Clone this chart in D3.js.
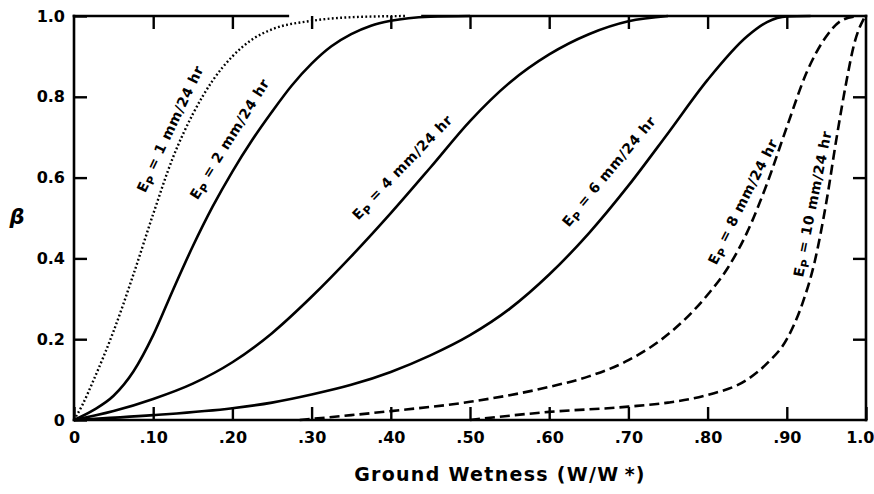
<!DOCTYPE html>
<html>
<head>
<meta charset="utf-8">
<script src="https://cdn.jsdelivr.net/npm/d3@7"></script>
<style>
  body { margin: 0; background: #fff; }
  text { font-family: "DejaVu Sans", sans-serif; font-weight: bold; fill: #000; }
</style>
</head>
<body>
<div id="chart"></div>
<script>
      var width = 874;
      var height = 494;

      // tick values and labels
      var xTicks = [0, 0.1, 0.2, 0.3, 0.4, 0.5, 0.6, 0.7, 0.8, 0.9, 1.0];
      var xTickLabels = ["0", ".10", ".20", ".30", ".40", ".50", ".60", ".70", ".80", ".90", "1.0"];
      var yTicks = [0, 0.2, 0.4, 0.6, 0.8, 1.0];
      var yTickLabels = ["0", "0.2", "0.4", "0.6", "0.8", "1.0"];

      // curves: [W/W*, beta]
      var ep1 = [[0,0],[0.01,0.035],[0.025,0.1],[0.05,0.22],[0.075,0.36],[0.1,0.51],[0.125,0.65],[0.15,0.757],
                 [0.175,0.84],[0.2,0.9],[0.225,0.942],[0.25,0.967],[0.3,0.988],[0.35,0.997],[0.42,1.0]];
      var ep2 = [[0,0],[0.025,0.025],[0.05,0.06],[0.075,0.12],[0.1,0.21],[0.125,0.322],[0.15,0.43],
                 [0.175,0.528],[0.2,0.615],[0.225,0.693],[0.25,0.763],[0.275,0.828],[0.3,0.882],[0.325,0.925],
                 [0.35,0.955],[0.375,0.976],[0.4,0.988],[0.45,0.998],[0.5,1.0]];
      var ep4 = [[0,0],[0.05,0.022],[0.1,0.052],[0.15,0.09],[0.2,0.143],[0.25,0.215],[0.3,0.305],[0.35,0.405],
                 [0.4,0.512],[0.45,0.625],[0.5,0.74],[0.55,0.835],[0.6,0.905],[0.65,0.955],[0.7,0.987],[0.75,1.0]];
      var ep6 = [[0,0],[0.1,0.012],[0.2,0.029],[0.25,0.043],[0.3,0.063],[0.35,0.087],[0.4,0.119],[0.45,0.16],
                 [0.5,0.21],[0.55,0.275],[0.6,0.36],[0.65,0.462],[0.7,0.58],[0.75,0.71],[0.8,0.842],
                 [0.85,0.95],[0.875,0.985],[0.9,0.999],[0.93,1.0]];
      var ep8 = [[0.285,0],[0.35,0.012],[0.4,0.022],[0.5,0.045],[0.6,0.082],[0.65,0.108],[0.7,0.148],
                 [0.75,0.212],[0.8,0.31],[0.825,0.375],[0.85,0.465],[0.875,0.585],[0.9,0.725],[0.925,0.86],
                 [0.95,0.95],[0.97,0.99],[0.99,1.0]];
      var ep10 = [[0.5,0],[0.6,0.02],[0.7,0.033],[0.75,0.043],[0.8,0.062],[0.85,0.1],[0.875,0.14],[0.9,0.2],
                  [0.92,0.29],[0.935,0.39],[0.95,0.54],[0.963,0.7],[0.975,0.835],[0.985,0.93],[0.999,1.0]];

      var curveNames = ["1", "2", "4", "6", "8", "10"];
      var curveData = [ep1, ep2, ep4, ep6, ep8, ep10];

      // label placement along each curve: [W/W*, beta, angle]
      var labelSpots = [[0.122, 0.72, -64.5], [0.197, 0.695, -58], [0.415, 0.625, -46],
                        [0.676, 0.615, -50], [0.845, 0.54, -63], [0.933, 0.535, -78.5]];

      var svg = d3.select('#chart').append('svg')
          .attr('width', width)
          .attr('height', height)

      var xScale = d3.scaleLinear().domain([0, 1]).range([74, 866])
      var yScale = d3.scaleLinear().domain([0, 1]).range([420, 16])

      var tick = 13;

      // bottom axis with labels, ticks pointing in
      svg.append('g')
            .attr('transform', 'translate(0,' + yScale(0) + ')')
            .call(d3.axisBottom(xScale).tickValues(xTicks)
                  .tickFormat((d, i) => xTickLabels[i])
                  .tickSizeInner(-tick).tickSizeOuter(0).tickPadding(12))
            .call(g => g.select('.domain').remove())
            .call(g => g.selectAll('text').style('font-size', '16px').attr('font-family', null))
            // last label sits against the right edge
            .call(g => g.selectAll('text').filter(d => d === 1).attr('text-anchor', 'end').attr('x', 8))
      // top axis, ticks only
      svg.append('g')
            .attr('transform', 'translate(0,' + yScale(1) + ')')
            .call(d3.axisTop(xScale).tickValues(xTicks.slice(1, -1))
                  .tickFormat('').tickSizeInner(-tick).tickSizeOuter(0))
            .call(g => g.select('.domain').remove())
      // left axis with labels
      svg.append('g')
            .attr('transform', 'translate(' + xScale(0) + ',0)')
            .call(d3.axisLeft(yScale).tickValues(yTicks)
                  .tickFormat((d, i) => yTickLabels[i])
                  .tickSizeInner(-tick).tickSizeOuter(0).tickPadding(9))
            .call(g => g.select('.domain').remove())
            .call(g => g.selectAll('text').style('font-size', '16px').attr('font-family', null))
      // right axis, ticks only
      svg.append('g')
            .attr('transform', 'translate(' + xScale(1) + ',0)')
            .call(d3.axisRight(yScale).tickValues(yTicks.slice(1, -1))
                  .tickFormat('').tickSizeInner(-tick).tickSizeOuter(0))
            .call(g => g.select('.domain').remove())

      svg.selectAll('.tick line').attr('stroke', '#000').attr('stroke-width', 2.4)

      // frame (the top edge has a gap where the dotted curve runs along it)
      var frame = [[[0, 0], [1, 0]], [[0, 0], [0, 1]], [[1, 0], [1, 1]],
                   [[0, 1], [0.27, 1]], [[0.44, 1], [1, 1]]];
      svg.selectAll('line.frame')
            .data(frame)
            .enter()
            .append('line')
                  .attr('class', 'frame')
                  .attr('x1', d => xScale(d[0][0]))
                  .attr('y1', d => yScale(d[0][1]))
                  .attr('x2', d => xScale(d[1][0]))
                  .attr('y2', d => yScale(d[1][1]))
                  .attr('stroke', '#000')
                  .attr('stroke-width', 2.6)
                  .attr('stroke-linecap', 'square')

      var line = d3.line()
            .x(d => xScale(d[0]))
            .y(d => yScale(d[1]))
            .curve(d3.curveMonotoneX)

      var dashes = ['1.8,2.4', null, null, null, '10,5', '10,5'];
      var widths = [2.4, 2.6, 2.6, 2.6, 2.6, 2.6];

      svg.selectAll('path.curve')
            .data(curveData)
            .enter()
            .append('path')
                  .attr('class', 'curve')
                  .attr('d', line)
                  .attr('fill', 'none')
                  .attr('stroke', '#000')
                  .attr('stroke-width', (d, i) => widths[i])
                  .attr('stroke-dasharray', (d, i) => dashes[i])

      // curve labels "Ep = n mm/24 hr"
      var labels = svg.selectAll('text.curveLabel')
            .data(curveNames)
            .enter()
            .append('text')
                  .attr('class', 'curveLabel')
                  .attr('text-anchor', 'middle')
                  .attr('transform', (d, i) => 'translate(' + xScale(labelSpots[i][0]) + ',' +
                        yScale(labelSpots[i][1]) + ') rotate(' + labelSpots[i][2] + ')')
                  .attr('dy', '0.35em')
                  .style('font-size', '14px')
                  .style('letter-spacing', '0.6px')
      labels.append('tspan').text('E')
      labels.append('tspan').attr('dy', '0.3em').style('font-size', '11px').text('P')
      labels.append('tspan').attr('dy', '-0.3em').text(d => ' = ' + d + ' mm/24 hr')

      // axis titles
      svg.append('text')
            .attr('x', 500)
            .attr('y', 481)
            .attr('text-anchor', 'middle')
            .style('font-size', '19px')
            .style('letter-spacing', '1.3px')
            .text('Ground Wetness (W/W\u2009*)')

      svg.append('text')
            .attr('x', 17)
            .attr('y', 224)
            .attr('text-anchor', 'middle')
            .style('font-size', '21px')
            .style('font-style', 'italic')
            .text('\u03b2')
</script>
</body>
</html>
